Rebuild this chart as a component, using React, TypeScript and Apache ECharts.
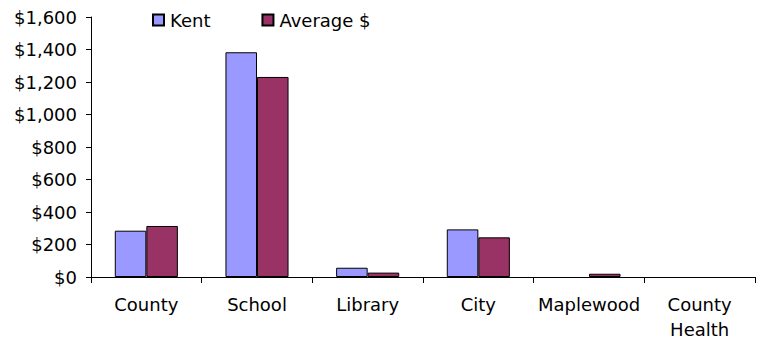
import React, { useEffect, useRef } from "react";
import * as echarts from "echarts";

const categories = ["County", "School", "Library", "City", "Maplewood", "County\nHealth"];
const kentValues = [285, 1383, 57, 293, 0, 0];
const averageValues = [314, 1231, 27, 244, 20, 0];
const yTicks = [0, 200, 400, 600, 800, 1000, 1200, 1400, 1600];

const FONT = "'DejaVu Sans', sans-serif";

const toBars = (arr: number[]) => arr.map((v) => (v === 0 ? null : v));

export default function App() {
  const ref = useRef<HTMLDivElement>(null);
  useEffect(() => {
    if (!ref.current) return;
    const chart = echarts.init(ref.current, undefined, { renderer: "svg" });
    chart.setOption({
      animation: false,
      textStyle: { fontFamily: FONT },
      legend: {
        left: 147,
        top: 6,
        itemWidth: 11,
        itemHeight: 11,
        itemGap: 51,
        icon: "rect",
        textStyle: { fontSize: 18, color: "#000", fontFamily: FONT, padding: [0, 0, 0, 1] },
        data: ["Kent", "Average $"],
      },
      grid: { left: 91, right: 2, top: 17, bottom: 66, containLabel: false },
      xAxis: {
        type: "category",
        data: categories,
        axisLine: { lineStyle: { color: "#000", width: 1 } },
        axisTick: { show: true, length: 6, lineStyle: { color: "#000" } },
        axisLabel: { fontSize: 18, color: "#000", margin: 15, lineHeight: 25, fontFamily: FONT, interval: 0 },
      },
      yAxis: {
        type: "value",
        min: 0,
        max: 1600,
        interval: 200,
        splitLine: { show: false },
        axisLine: { show: true, lineStyle: { color: "#000", width: 1 } },
        axisTick: { show: true, length: 5, lineStyle: { color: "#000" } },
        axisLabel: {
          fontSize: 18,
          color: "#000",
          margin: 14,
          fontFamily: FONT,
          formatter: (v: number) => (yTicks.includes(v) ? "$" + v.toLocaleString("en-US") : ""),
        },
      },
      series: [
        {
          name: "Kent",
          type: "bar",
          data: toBars(kentValues),
          barGap: "0%",
          barCategoryGap: "43%",
          itemStyle: { color: "#9999FF", borderColor: "#000", borderWidth: 1 },
        },
        {
          name: "Average $",
          type: "bar",
          data: toBars(averageValues),
          barGap: "0%",
          barCategoryGap: "43%",
          itemStyle: { color: "#993366", borderColor: "#000", borderWidth: 1 },
        },
      ],
    });
    return () => chart.dispose();
  }, []);
  return <div ref={ref} style={{ width: 757, height: 343, position: "absolute", left: 0, top: 0 }} />;
}
